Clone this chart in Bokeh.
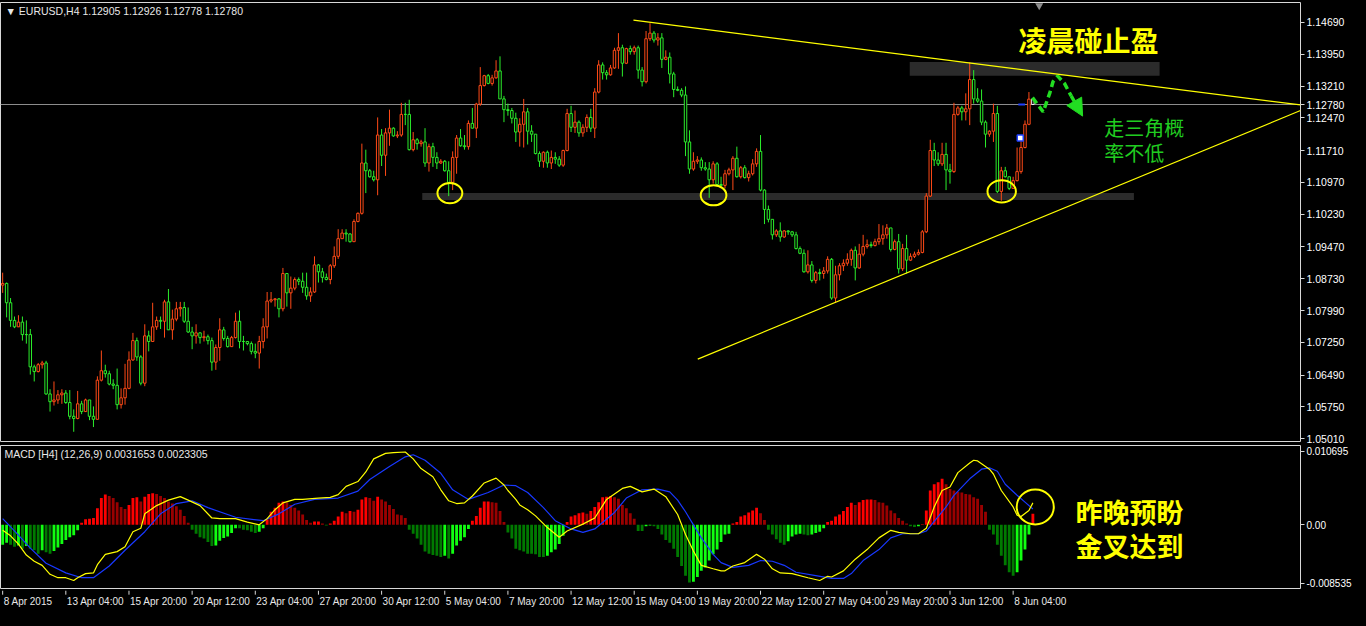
import numpy as np
from bokeh.plotting import figure
from bokeh.layouts import column
from bokeh.core.properties import value
from bokeh.models import (Range1d, FixedTicker, NumeralTickFormatter, Label,
                          Span, Arrow, NormalHead, GlobalInlineStyleSheet)
from bokeh.embed import file_html
from bokeh.resources import INLINE

# ---------------- data (EURUSD H4, bar index 0 = 8 Apr 2015 12:00) ----------------
first_open = 1.0858
closes = [
    1.0862, 1.0817, 1.0776, 1.0761, 1.0772, 1.0743, 1.0743, 1.0668, 1.0657, 1.0673,
    1.0677, 1.0605, 1.0587, 1.0591, 1.0603, 1.0607, 1.0585, 1.0553, 1.0548, 1.0582,
    1.0564, 1.0591, 1.0553, 1.0546, 1.0637, 1.0659, 1.0652, 1.0628, 1.0625, 1.0580,
    1.0596, 1.0618, 1.0684, 1.0729, 1.0691, 1.0630, 1.0740, 1.0727, 1.0761, 1.0776,
    1.0774, 1.0819, 1.0754, 1.0779, 1.0803, 1.0806, 1.0774, 1.0749, 1.0740, 1.0747,
    1.0736, 1.0738, 1.0729, 1.0679, 1.0713, 1.0754, 1.0734, 1.0715, 1.0736, 1.0774,
    1.0727, 1.0727, 1.0722, 1.0704, 1.0700, 1.0727, 1.0761, 1.0821, 1.0824, 1.0826,
    1.0803, 1.0885, 1.0840, 1.0851, 1.0871, 1.0867, 1.0853, 1.0833, 1.0842, 1.0905,
    1.0889, 1.0876, 1.0871, 1.0903, 1.0925, 1.0966, 1.0979, 1.0977, 1.0959, 1.1006,
    1.1025, 1.1142, 1.1124, 1.1110, 1.1103, 1.1207, 1.1160, 1.1212, 1.1223, 1.1205,
    1.1207, 1.1255, 1.1255, 1.1173, 1.1196, 1.1187, 1.1191, 1.1142, 1.1180, 1.1155,
    1.1142, 1.1146, 1.1124, 1.1097, 1.1155, 1.1200, 1.1182, 1.1180, 1.1234, 1.1223,
    1.1279, 1.1322, 1.1345, 1.1327, 1.1340, 1.1356, 1.1291, 1.1266, 1.1264, 1.1246,
    1.1214, 1.1232, 1.1261, 1.1216, 1.1209, 1.1164, 1.1146, 1.1167, 1.1142, 1.1155,
    1.1151, 1.1137, 1.1171, 1.1257, 1.1225, 1.1237, 1.1212, 1.1225, 1.1248, 1.1223,
    1.1307, 1.1370, 1.1352, 1.1347, 1.1363, 1.1404, 1.1410, 1.1374, 1.1408, 1.1401,
    1.1410, 1.1358, 1.1331, 1.1431, 1.1444, 1.1428, 1.1433, 1.1383, 1.1388, 1.1349,
    1.1313, 1.1311, 1.1300, 1.1191, 1.1128, 1.1146, 1.1149, 1.1131, 1.1128, 1.1103,
    1.1140, 1.1092, 1.1090, 1.1117, 1.1126, 1.1153, 1.1110, 1.1131, 1.1108, 1.1117,
    1.1140, 1.1169, 1.1079, 1.1034, 1.1011, 1.0975, 1.0984, 1.0970, 1.0984, 1.0982,
    1.0975, 1.0943, 1.0932, 1.0889, 1.0905, 1.0869, 1.0887, 1.0885, 1.0891, 1.0918,
    1.0828, 1.0882, 1.0903, 1.0909, 1.0918, 1.0939, 1.0898, 1.0930, 1.0948, 1.0952,
    1.0950, 1.0959, 1.0966, 1.0975, 1.0991, 1.0941, 1.0959, 1.0896, 1.0943, 1.0916,
    1.0925, 1.0930, 1.0934, 1.0982, 1.1065, 1.1171, 1.1149, 1.1140, 1.1162, 1.1126,
    1.1122, 1.1255, 1.1270, 1.1261, 1.1268, 1.1336, 1.1291, 1.1286, 1.1237, 1.1209,
    1.1216, 1.1257, 1.1076, 1.1124, 1.1110, 1.1083, 1.1101, 1.1122, 1.1178, 1.1232,
    1.12905, 1.12780]
highs = [
    1.0887, 1.0864, 1.0828, 1.0785, 1.0788, 1.0785, 1.0776, 1.0756, 1.0673, 1.0677,
    1.0682, 1.0682, 1.0616, 1.0634, 1.0614, 1.0616, 1.0614, 1.0614, 1.0569, 1.0612,
    1.0589, 1.0594, 1.0591, 1.0576, 1.0646, 1.0706, 1.0673, 1.0659, 1.0639, 1.0664,
    1.0618, 1.0675, 1.0704, 1.0747, 1.0736, 1.0695, 1.0767, 1.0752, 1.0817, 1.0785,
    1.0785, 1.0824, 1.0849, 1.0801, 1.0819, 1.0819, 1.0819, 1.0806, 1.0761, 1.0767,
    1.0749, 1.0752, 1.0743, 1.0736, 1.0720, 1.0781, 1.0761, 1.0740, 1.0740, 1.0794,
    1.0799, 1.0740, 1.0727, 1.0727, 1.0722, 1.0740, 1.0781, 1.0842, 1.0842, 1.0828,
    1.0828, 1.0898, 1.0885, 1.0878, 1.0876, 1.0876, 1.0887, 1.0887, 1.0853, 1.0925,
    1.0907, 1.0898, 1.0885, 1.0907, 1.0948, 1.0988, 1.0988, 1.0988, 1.0979, 1.1011,
    1.1027, 1.1187, 1.1173, 1.1128, 1.1124, 1.1248, 1.1221, 1.1223, 1.1266, 1.1225,
    1.1216, 1.1282, 1.1282, 1.1289, 1.1214, 1.1200, 1.1196, 1.1223, 1.1187, 1.1189,
    1.1167, 1.1151, 1.1149, 1.1146, 1.1169, 1.1207, 1.1221, 1.1207, 1.1241, 1.1270,
    1.1282, 1.1365, 1.1347, 1.1349, 1.1347, 1.1381, 1.1390, 1.1298, 1.1280, 1.1270,
    1.1259, 1.1246, 1.1291, 1.1270, 1.1230, 1.1203, 1.1169, 1.1169, 1.1171, 1.1171,
    1.1167, 1.1158, 1.1173, 1.1268, 1.1275, 1.1264, 1.1241, 1.1232, 1.1255, 1.1268,
    1.1316, 1.1381, 1.1376, 1.1358, 1.1370, 1.1410, 1.1444, 1.1417, 1.1410, 1.1415,
    1.1415, 1.1415, 1.1365, 1.1449, 1.1467, 1.1449, 1.1444, 1.1444, 1.1404, 1.1399,
    1.1354, 1.1320, 1.1316, 1.1320, 1.1218, 1.1167, 1.1158, 1.1155, 1.1144, 1.1144,
    1.1146, 1.1144, 1.1110, 1.1126, 1.1131, 1.1158, 1.1180, 1.1135, 1.1137, 1.1124,
    1.1151, 1.1176, 1.1207, 1.1081, 1.1043, 1.1009, 1.0988, 1.1004, 1.0986, 1.0986,
    1.0984, 1.0982, 1.0948, 1.0941, 1.0939, 1.0914, 1.0891, 1.0896, 1.0900, 1.0925,
    1.0921, 1.0903, 1.0909, 1.0918, 1.0932, 1.0943, 1.0948, 1.0954, 1.0975, 1.0964,
    1.0959, 1.0966, 1.1000, 1.0997, 1.1000, 1.0982, 1.0964, 1.0977, 1.0954, 1.0975,
    1.0932, 1.0936, 1.0941, 1.0986, 1.1072, 1.1196, 1.1189, 1.1167, 1.1189, 1.1189,
    1.1140, 1.1282, 1.1275, 1.1275, 1.1304, 1.1376, 1.1358, 1.1316, 1.1313, 1.1241,
    1.1218, 1.1280, 1.1275, 1.1133, 1.1133, 1.1099, 1.1110, 1.1178, 1.1207, 1.1241,
    1.1307, 1.12926]
lows = [
    1.0840, 1.0783, 1.0761, 1.0758, 1.0761, 1.0729, 1.0722, 1.0650, 1.0634, 1.0655,
    1.0664, 1.0603, 1.0564, 1.0578, 1.0582, 1.0582, 1.0582, 1.0546, 1.0517, 1.0546,
    1.0558, 1.0564, 1.0544, 1.0528, 1.0546, 1.0634, 1.0643, 1.0625, 1.0616, 1.0569,
    1.0571, 1.0580, 1.0616, 1.0682, 1.0682, 1.0625, 1.0623, 1.0704, 1.0727, 1.0754,
    1.0756, 1.0736, 1.0754, 1.0731, 1.0774, 1.0785, 1.0770, 1.0747, 1.0709, 1.0722,
    1.0722, 1.0727, 1.0720, 1.0659, 1.0661, 1.0682, 1.0729, 1.0713, 1.0715, 1.0734,
    1.0711, 1.0706, 1.0718, 1.0697, 1.0688, 1.0664, 1.0711, 1.0734, 1.0817, 1.0808,
    1.0783, 1.0797, 1.0808, 1.0803, 1.0846, 1.0858, 1.0840, 1.0824, 1.0819, 1.0840,
    1.0864, 1.0864, 1.0869, 1.0860, 1.0898, 1.0919, 1.0966, 1.0959, 1.0957, 1.0959,
    1.1004, 1.1022, 1.1072, 1.1108, 1.1099, 1.1067, 1.1135, 1.1112, 1.1182, 1.1203,
    1.1200, 1.1203, 1.1230, 1.1171, 1.1169, 1.1173, 1.1180, 1.1133, 1.1122, 1.1133,
    1.1128, 1.1140, 1.1122, 1.1065, 1.1079, 1.1117, 1.1180, 1.1173, 1.1173, 1.1223,
    1.1200, 1.1275, 1.1320, 1.1325, 1.1322, 1.1338, 1.1291, 1.1237, 1.1252, 1.1234,
    1.1191, 1.1180, 1.1178, 1.1185, 1.1191, 1.1162, 1.1133, 1.1131, 1.1131, 1.1128,
    1.1140, 1.1133, 1.1133, 1.1169, 1.1214, 1.1212, 1.1203, 1.1203, 1.1214, 1.1214,
    1.1200, 1.1304, 1.1336, 1.1336, 1.1345, 1.1361, 1.1361, 1.1343, 1.1372, 1.1394,
    1.1394, 1.1338, 1.1320, 1.1327, 1.1426, 1.1422, 1.1415, 1.1363, 1.1381, 1.1327,
    1.1295, 1.1309, 1.1295, 1.1158, 1.1117, 1.1124, 1.1140, 1.1124, 1.1124, 1.1061,
    1.1094, 1.1088, 1.1088, 1.1083, 1.1113, 1.1079, 1.1108, 1.1106, 1.1106, 1.1099,
    1.1113, 1.1133, 1.1076, 1.1000, 1.1004, 1.0964, 1.0970, 1.0959, 1.0968, 1.0975,
    1.0970, 1.0941, 1.0930, 1.0887, 1.0885, 1.0864, 1.0862, 1.0869, 1.0873, 1.0885,
    1.0824, 1.0817, 1.0869, 1.0891, 1.0903, 1.0903, 1.0869, 1.0896, 1.0925, 1.0943,
    1.0945, 1.0948, 1.0952, 1.0952, 1.0966, 1.0936, 1.0939, 1.0885, 1.0891, 1.0885,
    1.0914, 1.0921, 1.0927, 1.0932, 1.0979, 1.1063, 1.1135, 1.1135, 1.1135, 1.1079,
    1.1094, 1.1119, 1.1252, 1.1241, 1.1241, 1.1230, 1.1280, 1.1282, 1.1230, 1.1178,
    1.1203, 1.1191, 1.1072, 1.1054, 1.1108, 1.1079, 1.1088, 1.1099, 1.1117, 1.1176,
    1.1230, 1.12778]

# MACD histogram (per bar)
hist = [
    -0.0029, -0.0026, -0.0029, -0.0032, -0.0030, -0.0035, -0.0031, -0.0035, -0.0037, -0.0042,
    -0.0037, -0.0040, -0.0042, -0.0038, -0.0033, -0.0028, -0.0022, -0.0018, -0.0015, -0.0008,
    0.0003, 0.0008, 0.0009, 0.0010, 0.0024, 0.0039, 0.0044, 0.0042, 0.0039, 0.0033,
    0.0026, 0.0023, 0.0029, 0.0039, 0.0040, 0.0034, 0.0041, 0.0045, 0.0046, 0.0045,
    0.0042, 0.0039, 0.0034, 0.0031, 0.0027, 0.0022, 0.0013, 0.0003, -0.0007, -0.0013,
    -0.0018, -0.0020, -0.0025, -0.0031, -0.0030, -0.0023, -0.0019, -0.0017, -0.0012, -0.0005,
    -0.0005, -0.0007, -0.0008, -0.0010, -0.0012, -0.0010, -0.0005, 0.0008, 0.0019, 0.0025,
    0.0032, 0.0034, 0.0033, 0.0029, 0.0025, 0.0021, 0.0015, 0.0007, 0.0003, 0.0005,
    0.0005, 0.0002, -0.0001, 0.0002, 0.0006, 0.0012, 0.0019, 0.0017, 0.0020, 0.0019,
    0.0022, 0.0037, 0.0040, 0.0039, 0.0035, 0.0041, 0.0037, 0.0034, 0.0029, 0.0023,
    0.0015, 0.0014, 0.0010, -0.0007, -0.0013, -0.0020, -0.0029, -0.0039, -0.0042, -0.0044,
    -0.0045, -0.0047, -0.0045, -0.0049, -0.0042, -0.0030, -0.0023, -0.0018, -0.0006, 0.0006,
    0.0013, 0.0025, 0.0034, 0.0034, 0.0033, 0.0032, 0.0020, 0.0004, -0.0011, -0.0020,
    -0.0035, -0.0037, -0.0039, -0.0042, -0.0042, -0.0043, -0.0047, -0.0047, -0.0045, -0.0040,
    -0.0036, -0.0028, -0.0016, 0.0004, 0.0012, 0.0014, 0.0017, 0.0018, 0.0016, 0.0020,
    0.0026, 0.0033, 0.0040, 0.0041, 0.0042, 0.0040, 0.0038, 0.0029, 0.0024, 0.0017,
    0.0009, -0.0009, -0.0009, -0.0002, -0.0001, -0.0002, -0.0006, -0.0014, -0.0022, -0.0026,
    -0.0035, -0.0047, -0.0060, -0.0074, -0.0084, -0.0083, -0.0076, -0.0067, -0.0062, -0.0052,
    -0.0043, -0.0036, -0.0025, -0.0014, -0.0013, 0.0002, 0.0004, 0.0012, 0.0014, 0.0018,
    0.0021, 0.0025, 0.0017, 0.0007, -0.0007, -0.0014, -0.0021, -0.0026, -0.0029, -0.0024,
    -0.0017, -0.0014, -0.0013, -0.0014, -0.0015, -0.0014, -0.0012, -0.0010, -0.0005, 0.0004,
    0.0006, 0.0012, 0.0015, 0.0020, 0.0026, 0.0032, 0.0029, 0.0033, 0.0036, 0.0037,
    0.0037, 0.0036, 0.0033, 0.0032, 0.0028, 0.0021, 0.0017, 0.0010, 0.0006, 0.0002,
    -0.0002, -0.0003, -0.0002, 0.0001, 0.0021, 0.0050, 0.0059, 0.0062, 0.0067, 0.0059,
    0.0052, 0.0050, 0.0048, 0.0047, 0.0045, 0.0044, 0.0040, 0.0038, 0.0029, 0.0019,
    -0.0007, -0.0014, -0.0029, -0.0045, -0.0059, -0.0069, -0.0074, -0.0069, -0.0052, -0.0036,
    -0.0014, 0.0016]

# MACD main (yellow) and signal (blue) read at bar indices
yel_x = [0, 1, 2, 4, 6, 8, 10, 12, 14, 16, 18, 19, 21, 23, 24, 26, 29, 31, 33, 35,
         36, 39, 42, 45, 47, 50, 53, 55, 59, 62, 65, 67, 69, 71, 74, 76, 80, 83, 85, 87,
         90, 92, 94, 97, 99, 102, 104, 106, 109, 111, 113, 115, 117, 119, 122, 125, 127, 128, 130, 131,
         133, 135, 138, 141, 143, 147, 150, 153, 157, 159, 162, 165, 168, 171, 173, 175, 177, 180, 182, 183,
         185, 188, 191, 193, 195, 197, 200, 204, 207, 209, 210, 213, 216, 219, 222, 225, 227, 230, 232, 234,
         236, 238, 240, 242, 245, 246, 247, 250, 251, 253, 256, 257, 258, 260, 261]
yel_y = [-0.0008, -0.0012, -0.0016, -0.0028, -0.0044, -0.0053, -0.0059, -0.0072, -0.0077, -0.0077,
         -0.0081, -0.0077, -0.0071, -0.0070, -0.0058, -0.0043, -0.0039, -0.0032, -0.0010, -0.0005,
         0.0016, 0.0028, 0.0036, 0.0041, 0.0036, 0.0028, 0.0010, 0.0009, 0.0009, 0.0004,
         0.0000, 0.0009, 0.0022, 0.0032, 0.0037, 0.0037, 0.0039, 0.0040, 0.0044, 0.0056,
         0.0063, 0.0077, 0.0096, 0.0104, 0.0105, 0.0106, 0.0096, 0.0082, 0.0070, 0.0051,
         0.0035, 0.0031, 0.0032, 0.0042, 0.0061, 0.0068, 0.0058, 0.0050, 0.0037, 0.0029,
         0.0022, 0.0013, -0.0004, -0.0018, -0.0009, 0.0001, 0.0010, 0.0037, 0.0053, 0.0056,
         0.0048, 0.0052, 0.0041, 0.0015, -0.0014, -0.0038, -0.0059, -0.0064, -0.0067, -0.0067,
         -0.0060, -0.0055, -0.0043, -0.0050, -0.0064, -0.0070, -0.0071, -0.0077, -0.0081, -0.0075,
         -0.0076, -0.0067, -0.0050, -0.0036, -0.0019, -0.0008, -0.0011, -0.0013, -0.0013, -0.0005,
         0.0026, 0.0050, 0.0055, 0.0076, 0.0090, 0.0094, 0.0093, 0.0081, 0.0074, 0.0050,
         0.0026, 0.0014, 0.0012, 0.0021, 0.0032]
blue_x = [0, 4, 7, 11, 16, 20, 23, 27, 31, 36, 40, 44, 48, 52, 59, 66, 70, 74, 79, 85,
          90, 93, 98, 102, 104, 107, 111, 114, 118, 123, 127, 130, 133, 137, 140, 144, 147, 150, 155, 158,
          162, 166, 169, 171, 173, 175, 177, 180, 182, 185, 189, 192, 195, 198, 201, 206, 210, 213, 215, 218,
          222, 225, 228, 232, 234, 236, 239, 241, 245, 248, 250, 252, 254, 257, 259, 261]
blue_y = [0.0009, -0.0015, -0.0034, -0.0056, -0.0070, -0.0077, -0.0077, -0.0060, -0.0037, -0.0010,
          0.0016, 0.0031, 0.0035, 0.0025, 0.0011, 0.0006, 0.0016, 0.0030, 0.0037, 0.0039,
          0.0049, 0.0066, 0.0085, 0.0099, 0.0102, 0.0094, 0.0075, 0.0051, 0.0037, 0.0047,
          0.0058, 0.0057, 0.0047, 0.0025, 0.0006, -0.0006, -0.0011, -0.0006, 0.0018, 0.0039,
          0.0051, 0.0052, 0.0048, 0.0036, 0.0019, 0.0000, -0.0019, -0.0043, -0.0055, -0.0062,
          -0.0059, -0.0052, -0.0053, -0.0059, -0.0069, -0.0074, -0.0078, -0.0078, -0.0071, -0.0052,
          -0.0036, -0.0019, -0.0013, -0.0013, -0.0009, 0.0005, 0.0026, 0.0043, 0.0067, 0.0081,
          0.0083, 0.0078, 0.0059, 0.0043, 0.0033, 0.0023]

current_price = 1.12780
price_ticks = [1.14690, 1.13950, 1.13210, current_price, 1.12470, 1.11710, 1.10970, 1.10230,
               1.09470, 1.08730, 1.07990, 1.07250, 1.06490, 1.05750, 1.05010]
macd_ticks = [0.010695, 0.0, -0.008535]
macd_tick_text = ["0.010695", "0.00", "-0.008535"]
time_ticks = [0, 16, 32, 48, 64, 80, 96, 112, 128, 144, 160, 176, 192, 208, 224, 240, 256]
time_labels = ["8 Apr 2015", "13 Apr 04:00", "15 Apr 20:00", "20 Apr 12:00", "23 Apr 04:00",
               "27 Apr 20:00", "30 Apr 12:00", "5 May 04:00", "7 May 20:00", "12 May 12:00",
               "15 May 04:00", "19 May 20:00", "22 May 12:00", "27 May 04:00", "29 May 20:00",
               "3 Jun 12:00", "8 Jun 04:00"]
title_text = "▼  EURUSD,H4  1.12905 1.12926 1.12778 1.12780"
macd_title = "MACD [H4] (12,26,9) 0.0031653 0.0023305"

# annotations drawn on the chart (bar index / price)
zone_left = [106.3, 229.8]
zone_right = [286.6, 293.1]
zone_bottom = [1.1056, 1.1345]
zone_top = [1.1072, 1.1377]
down_line_x = [159.8, 328.8]
down_line_y = [1.1474, 1.1277]
up_line_x = [176.1, 328.8]
up_line_y = [1.0686, 1.1264]
ring_x = [113.3, 180.1, 253.1]
ring_y = [1.1072, 1.1067, 1.1076]
ring_w = [6.3, 6.5, 7.2]
ring_h = [0.0047, 0.0047, 0.0052]
macd_ring = (261.6, 0.0026, 9.4, 0.0051)
path_x = [260.9, 263.6, 265.3, 266.1, 267.3, 269.0, 270.7]
path_y = [1.1294, 1.1261, 1.1305, 1.1331, 1.1344, 1.1327, 1.1298]
path_tip = (273.6, 1.1251)
note_top = ("凌晨碰止盈", 275.1, 1.1428)
note_green = [("走三角概", 279.1, 1.1225), ("率不低", 279.1, 1.1167)]
note_macd = [("昨晚预盼", 271.8, 0.0020), ("金叉达到", 271.8, -0.0030)]
shift_marker_x = 262.6
trade_level_x = [257.3, 259.0]
trade_box = (257.8, 1.1200)

# ---------------- styling ----------------
BG = "#000000"
FRAME = "#D8D8D8"
UP = "#FF4A17"
DN = "#2BEE2B"
YEL = "#FFFF00"
GRN = "#22DD22"
FONT = "Liberation Sans"
CJK = "Noto Sans CJK SC"

X_START, X_END = -0.55, 328.8
P_TOP, P_BOT = 1.15152, 1.04944
M_TOP, M_BOT = 0.01155, -0.00927
FW = 1300

n = min(len(closes), len(highs), len(lows), len(hist))
idx = np.arange(n)
c = np.array(closes[:n])
o = np.array([first_open] + list(closes[:n - 1]))
h = np.array(highs[:n])
l = np.array(lows[:n])
ctop = np.maximum(o, c)
cbot = np.minimum(o, c)
cols = [UP if cc > oo else DN for oo, cc in zip(o, c)]
cols[-1] = "#F0F0F0"  # current (highlighted) bar


def style_right_axis(ax, size):
    ax.axis_line_color = None
    ax.major_tick_line_color = FRAME
    ax.major_tick_out = 4
    ax.major_tick_in = 0
    ax.minor_tick_line_color = None
    ax.major_label_text_color = "#FFFFFF"
    ax.major_label_text_font = FONT
    ax.major_label_text_font_size = size
    ax.major_label_standoff = 2


# ---------------- main price pane ----------------
x_range = Range1d(X_START, X_END)
main = figure(frame_width=FW, frame_height=439,
              x_range=x_range, y_range=Range1d(P_BOT, P_TOP),
              x_axis_location=None, y_axis_location="right",
              toolbar_location=None, output_backend="svg",
              background_fill_color=BG, border_fill_color=BG,
              min_border=0, min_border_left=0, min_border_top=2, min_border_bottom=4,
              outline_line_color=FRAME, outline_line_width=1)
main.grid.visible = False
ya = main.yaxis[0]
ya.ticker = FixedTicker(ticks=price_ticks)
ya.formatter = NumeralTickFormatter(format="0.00000")
style_right_axis(ya, "10.5px")

main.add_layout(Span(location=current_price, dimension="width", line_color="#8C8C8C",
                     line_width=1, level="underlay"))
main.quad(left=zone_left, right=zone_right, bottom=zone_bottom, top=zone_top,
          fill_color="#2B2B2B", line_color=None)

main.segment(x0=idx, y0=h, x1=idx, y1=l, line_color=cols, line_width=1)
main.vbar(x=idx, width=0.62, top=ctop, bottom=cbot, fill_color=BG,
          line_color=cols, line_width=1)

# trade markers near the last bars
main.segment(x0=[trade_level_x[0]], y0=[current_price], x1=[trade_level_x[1]], y1=[current_price],
             line_color="#2040FF", line_width=2)
main.scatter(x=[trade_box[0]], y=[trade_box[1]], marker="square", size=6,
             fill_color="white", line_color="#2040FF", line_width=1.5)

main.line(x=down_line_x, y=down_line_y, line_color=YEL, line_width=1.2)
main.line(x=up_line_x, y=up_line_y, line_color=YEL, line_width=1.2)
main.ellipse(x=ring_x, y=ring_y, width=ring_w, height=ring_h,
             fill_color=None, line_color=YEL, line_width=2)

main.line(x=path_x, y=path_y, line_color=GRN, line_width=3.5, line_dash="7 4")
main.add_layout(Arrow(end=NormalHead(size=17, fill_color=GRN, line_color=GRN),
                      x_start=path_x[-1], y_start=path_y[-1],
                      x_end=path_tip[0], y_end=path_tip[1],
                      line_color=GRN, line_width=3.5, line_dash="7 4"))

main.scatter(x=[shift_marker_x], y=[P_TOP - 0.0007], marker="inverted_triangle",
             size=8, fill_color="#8C8C8C", line_color=None)

main.add_layout(Label(x=X_START, y=P_TOP, x_offset=5, y_offset=-8, text=title_text,
                      text_color="#E8E8E8", text_font=FONT, text_font_size="10.5px",
                      text_baseline="middle"))
main.add_layout(Label(x=note_top[1], y=note_top[2], text=note_top[0], text_color=YEL,
                      text_font=CJK, text_font_size="28px", text_font_style="bold",
                      text_align="center", text_baseline="middle"))
for t, xx, yy in note_green:
    main.add_layout(Label(x=xx, y=yy, text=t, text_color="#20CC20", text_font=CJK,
                          text_font_size="20px", text_baseline="middle"))

# ---------------- MACD pane ----------------
hcols = []
for k, v in enumerate(hist[:n]):
    prev = hist[k - 1] if k > 0 else v
    if v >= 0:
        hcols.append("#FF0000" if v >= prev else "#9A0000")
    else:
        hcols.append("#11FF11" if (v > prev or k == 0) else "#007A00")

macd = figure(frame_width=FW, frame_height=143,
              x_range=x_range, y_range=Range1d(M_BOT, M_TOP),
              x_axis_location=None, y_axis_location="right",
              toolbar_location=None, output_backend="svg",
              background_fill_color=BG, border_fill_color=BG,
              min_border=0, min_border_left=0, min_border_top=0, min_border_bottom=2,
              outline_line_color=FRAME, outline_line_width=1)
macd.grid.visible = False
my = macd.yaxis[0]
my.ticker = FixedTicker(ticks=macd_ticks)
my.major_label_overrides = {v: s for v, s in zip(macd_ticks, macd_tick_text)}
style_right_axis(my, "10px")

macd.vbar(x=idx, top=hist[:n], bottom=0, width=0.72, fill_color=hcols, line_color=None)
macd.line(x=blue_x, y=blue_y, line_color="#1838FF", line_width=1.2)
macd.line(x=yel_x, y=yel_y, line_color=YEL, line_width=1.2)
macd.ellipse(x=[macd_ring[0]], y=[macd_ring[1]], width=[macd_ring[2]], height=[macd_ring[3]],
             fill_color=None, line_color=YEL, line_width=2)

macd.add_layout(Label(x=X_START, y=M_TOP, x_offset=4, y_offset=-8, text=macd_title,
                      text_color="#E8E8E8", text_font=FONT, text_font_size="10.5px",
                      text_baseline="middle"))
for t, xx, yy in note_macd:
    macd.add_layout(Label(x=xx, y=yy, text=t, text_color=YEL, text_font=CJK,
                          text_font_size="27px", text_font_style="bold", text_baseline="middle"))

# ---------------- time scale strip ----------------
tfig = figure(frame_width=FW, frame_height=19,
              x_range=x_range, y_range=Range1d(0, 1),
              x_axis_location=None, y_axis_location=None,
              toolbar_location=None, output_backend="svg",
              background_fill_color=BG, border_fill_color=BG,
              min_border=0, outline_line_color=None)
tfig.grid.visible = False
k = len(time_ticks)
tfig.segment(x0=time_ticks, y0=[1.0] * k, x1=time_ticks, y1=[0.78] * k,
             line_color=FRAME, line_width=1)
tfig.text(x=time_ticks, y=[0.42] * k, text=time_labels, x_offset=1,
          text_align="left", text_baseline="middle", text_color="#E8E8E8",
          text_font=value(FONT), text_font_size="10px")

layout = column(main, macd, tfig, styles={"background-color": "#000000"},
                stylesheets=[GlobalInlineStyleSheet(css="html, body { background-color: #000000; }")])

open("out.html", "w").write(file_html(layout, INLINE, title="EURUSD H4"))
